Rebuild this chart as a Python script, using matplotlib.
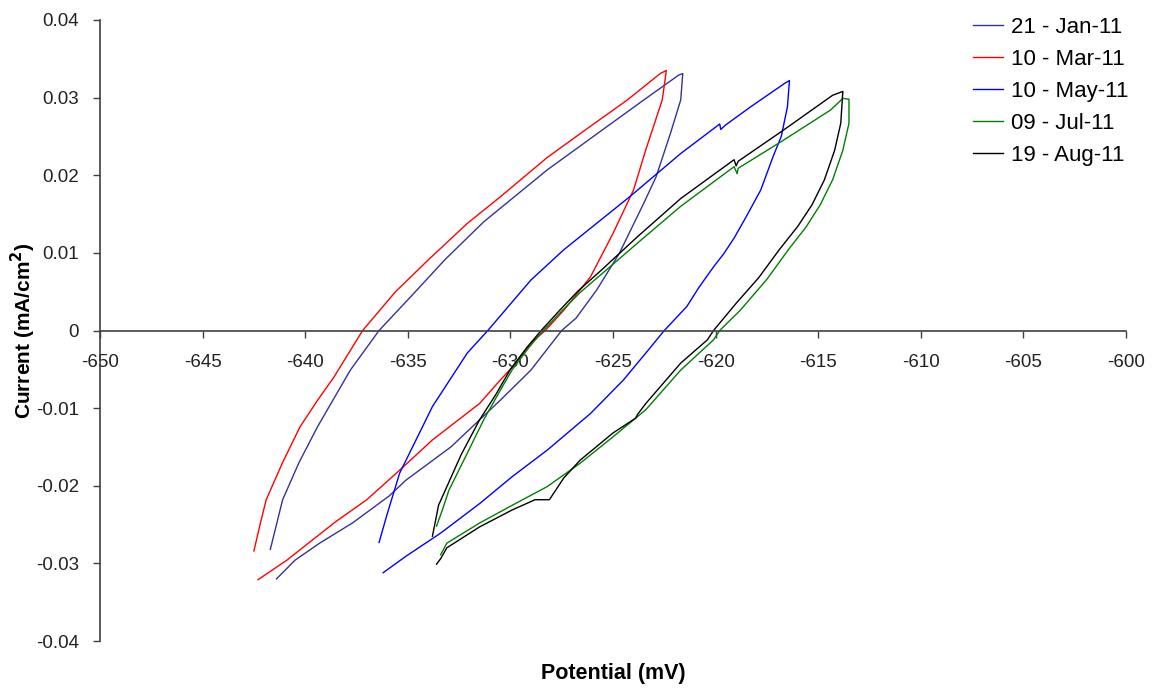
import matplotlib
matplotlib.use('Agg')
import matplotlib.pyplot as plt
from matplotlib.ticker import FuncFormatter, MultipleLocator

plt.rcParams['font.family'] = ['Liberation Sans', 'DejaVu Sans']
plt.rcParams['axes.unicode_minus'] = False

# each loop: upper branch from the bottom tip to the top, then back down the lower branch
jan_x = [-641.7, -641.4, -641.1, -640.3, -639.4, -637.8, -636.4, -634.7, -633.2, -631.3, -628.2, -625.8, -623.5, -621.8,
         -621.6, -621.7, -622.2, -622.9, -623.5, -624.7, -625.8, -626.8, -627.5, -629.0, -630.5, -632.9, -635.1,
         -635.9, -637.7, -639.3, -640.5, -641.4]
jan_y = [-0.0282, -0.0250, -0.0218, -0.0170, -0.0124, -0.0051, 0.0, 0.0048, 0.0091, 0.0140, 0.0207, 0.0253, 0.0297, 0.0329,
         0.0331, 0.0297, 0.0254, 0.0198, 0.0164, 0.0099, 0.0052, 0.0016, 0.0, -0.0051, -0.0090, -0.0150, -0.0193,
         -0.0213, -0.0248, -0.0274, -0.0296, -0.0320]

mar_x = [-642.5, -642.2, -641.9, -641.1, -640.25, -639.4, -638.6, -637.9, -637.2, -635.6, -634.0, -632.1, -630.5,
         -628.2, -626.0, -624.3, -622.7,
         -622.4, -622.6, -623.4, -624.0, -625.0, -626.1, -627.4, -628.3, -629.0, -629.9, -630.5, -631.5, -633.8,
         -635.4, -637.0, -638.5, -640.9, -642.3]
mar_y = [-0.0284, -0.0250, -0.0218, -0.0170, -0.0124, -0.0090, -0.0060, -0.0030, 0.0, 0.0050, 0.0091, 0.0138, 0.0172,
         0.0223, 0.0265, 0.0297, 0.0331,
         0.0335, 0.0297, 0.0233, 0.0181, 0.0125, 0.0069, 0.0026, 0.0, -0.0016, -0.0047, -0.0064, -0.0094, -0.0141,
         -0.0180, -0.0218, -0.0246, -0.0296, -0.0321]

may_x = [-636.4, -636.0, -635.4, -633.8, -632.1, -631.1, -629.0, -627.4, -624.2, -621.7, -619.8, -619.75, -619.5,
         -618.3, -616.6,
         -616.4, -616.5, -616.8, -617.2, -617.8, -618.5, -619.1, -619.6, -620.1, -620.8, -621.4, -622.5,
         -623.4, -624.5, -626.1, -628.2, -629.9, -631.5, -633.4, -635.1, -636.2]
may_y = [-0.0273, -0.0236, -0.0184, -0.0098, -0.0029, 0.0, 0.0065, 0.0104, 0.0172, 0.0228, 0.0266, 0.0259, 0.0265,
         0.0288, 0.0319,
         0.0322, 0.0288, 0.0250, 0.0224, 0.0181, 0.0147, 0.0119, 0.0099, 0.0082, 0.0056, 0.0031, 0.0,
         -0.0029, -0.0064, -0.0107, -0.0154, -0.0188, -0.0223, -0.0261, -0.0291, -0.0312]

jul_x = [-633.6, -633.3, -633.0, -632.1, -631.3, -630.6, -629.9, -629.1, -628.4, -627.5, -626.6, -625.5, -623.7, -621.7,
         -619.1, -618.95, -618.9, -616.7, -614.4, -613.8,
         -613.5, -613.5, -613.8, -614.3, -614.9, -615.6, -616.4, -617.5, -618.8, -619.8, -620.1, -621.7,
         -623.4, -625.0, -626.6, -628.2, -629.9, -631.5, -633.1, -633.4]
jul_y = [-0.0252, -0.0230, -0.0206, -0.0158, -0.0115, -0.0082, -0.0050, -0.0022, 0.0, 0.0025, 0.0049, 0.0074, 0.0115, 0.0160,
         0.0211, 0.0202, 0.0209, 0.0245, 0.0284, 0.0299,
         0.0298, 0.0267, 0.0232, 0.0194, 0.0162, 0.0133, 0.0106, 0.0066, 0.0026, 0.0, -0.0012, -0.0051,
         -0.0102, -0.0137, -0.0171, -0.0201, -0.0225, -0.0248, -0.0274, -0.0289]

aug_x = [-633.8, -633.5, -632.4, -631.5, -630.7, -630.0, -629.2, -628.5, -627.6, -626.7, -625.6, -623.8, -621.7,
         -619.1, -619.0, -618.9, -616.7, -614.3, -614.0,
         -613.8, -613.9, -614.2, -614.7, -615.3, -616.0, -616.9, -617.9, -619.0, -620.1, -620.4, -621.7,
         -623.4, -623.8, -623.9, -625.0, -626.6, -627.4, -628.1, -628.8, -629.9, -631.5, -633.1, -633.4, -633.6]
aug_y = [-0.0265, -0.0225, -0.0160, -0.0115, -0.0082, -0.0050, -0.0022, 0.0, 0.0026, 0.0051, 0.0077, 0.0121, 0.0170,
         0.0220, 0.0212, 0.0218, 0.0258, 0.0303, 0.0306,
         0.0308, 0.0267, 0.0232, 0.0194, 0.0162, 0.0134, 0.0104, 0.0068, 0.0035, 0.0, -0.0012, -0.0042,
         -0.0094, -0.0108, -0.0113, -0.0132, -0.0167, -0.0190, -0.0218, -0.0218, -0.0231, -0.0253, -0.0280, -0.0294, -0.0301]

labels = ['21 - Jan-11', '10 - Mar-11', '10 - May-11', '09 - Jul-11', '19 - Aug-11']
colors = ['#333399', '#FF0000', '#0000FF', '#008000', '#000000']

fig = plt.figure(figsize=(11.54, 6.91), dpi=100)
ax = fig.add_axes([100 / 1154, 50 / 691, 1026 / 1154, 621 / 691])

series = [(jan_x, jan_y), (mar_x, mar_y), (may_x, may_y), (jul_x, jul_y), (aug_x, aug_y)]
for (xs, ys), lab, col in zip(series, labels, colors):
    ax.plot(xs, ys, color=col, lw=1.0, label=lab)

ax.set_xlim(-650, -600)
ax.set_ylim(-0.04, 0.04)
ax.xaxis.set_major_locator(MultipleLocator(5))
ax.yaxis.set_major_locator(MultipleLocator(0.01))
ax.xaxis.set_major_formatter(FuncFormatter(lambda v, p: '%d' % round(v)))
ax.yaxis.set_major_formatter(FuncFormatter(lambda v, p: '0' if abs(v) < 1e-9 else '%.2f' % v))

for s in ['top', 'right']:
    ax.spines[s].set_visible(False)
ax.spines['bottom'].set_position(('data', 0))
for s in ['left', 'bottom']:
    ax.spines[s].set_color('#404040')
    ax.spines[s].set_linewidth(1.2)
ax.tick_params(axis='both', direction='out', length=5, width=1.0, color='#404040',
               labelsize=13.5, labelcolor='#222222')
ax.tick_params(axis='x', pad=12)
ax.tick_params(axis='y', pad=10)

fig.text(613 / 1154, 1 - 673 / 691, 'Potential (mV)', ha='center', va='center',
         fontsize=15.5, fontweight='bold')
fig.text(23 / 1154, 1 - 331 / 691, 'Current (mA/cm$^\\mathbf{2}$)', ha='center', va='center',
         rotation=90, fontsize=15, fontweight='bold')

ax.legend(loc='upper left', bbox_to_anchor=(973 / 1154, 1 - 17 / 691), bbox_transform=fig.transFigure,
          frameon=False, fontsize=16, handlelength=1.35, handletextpad=0.35, labelspacing=0.49,
          borderpad=0, borderaxespad=0)

fig.savefig('out.png', dpi=100)
